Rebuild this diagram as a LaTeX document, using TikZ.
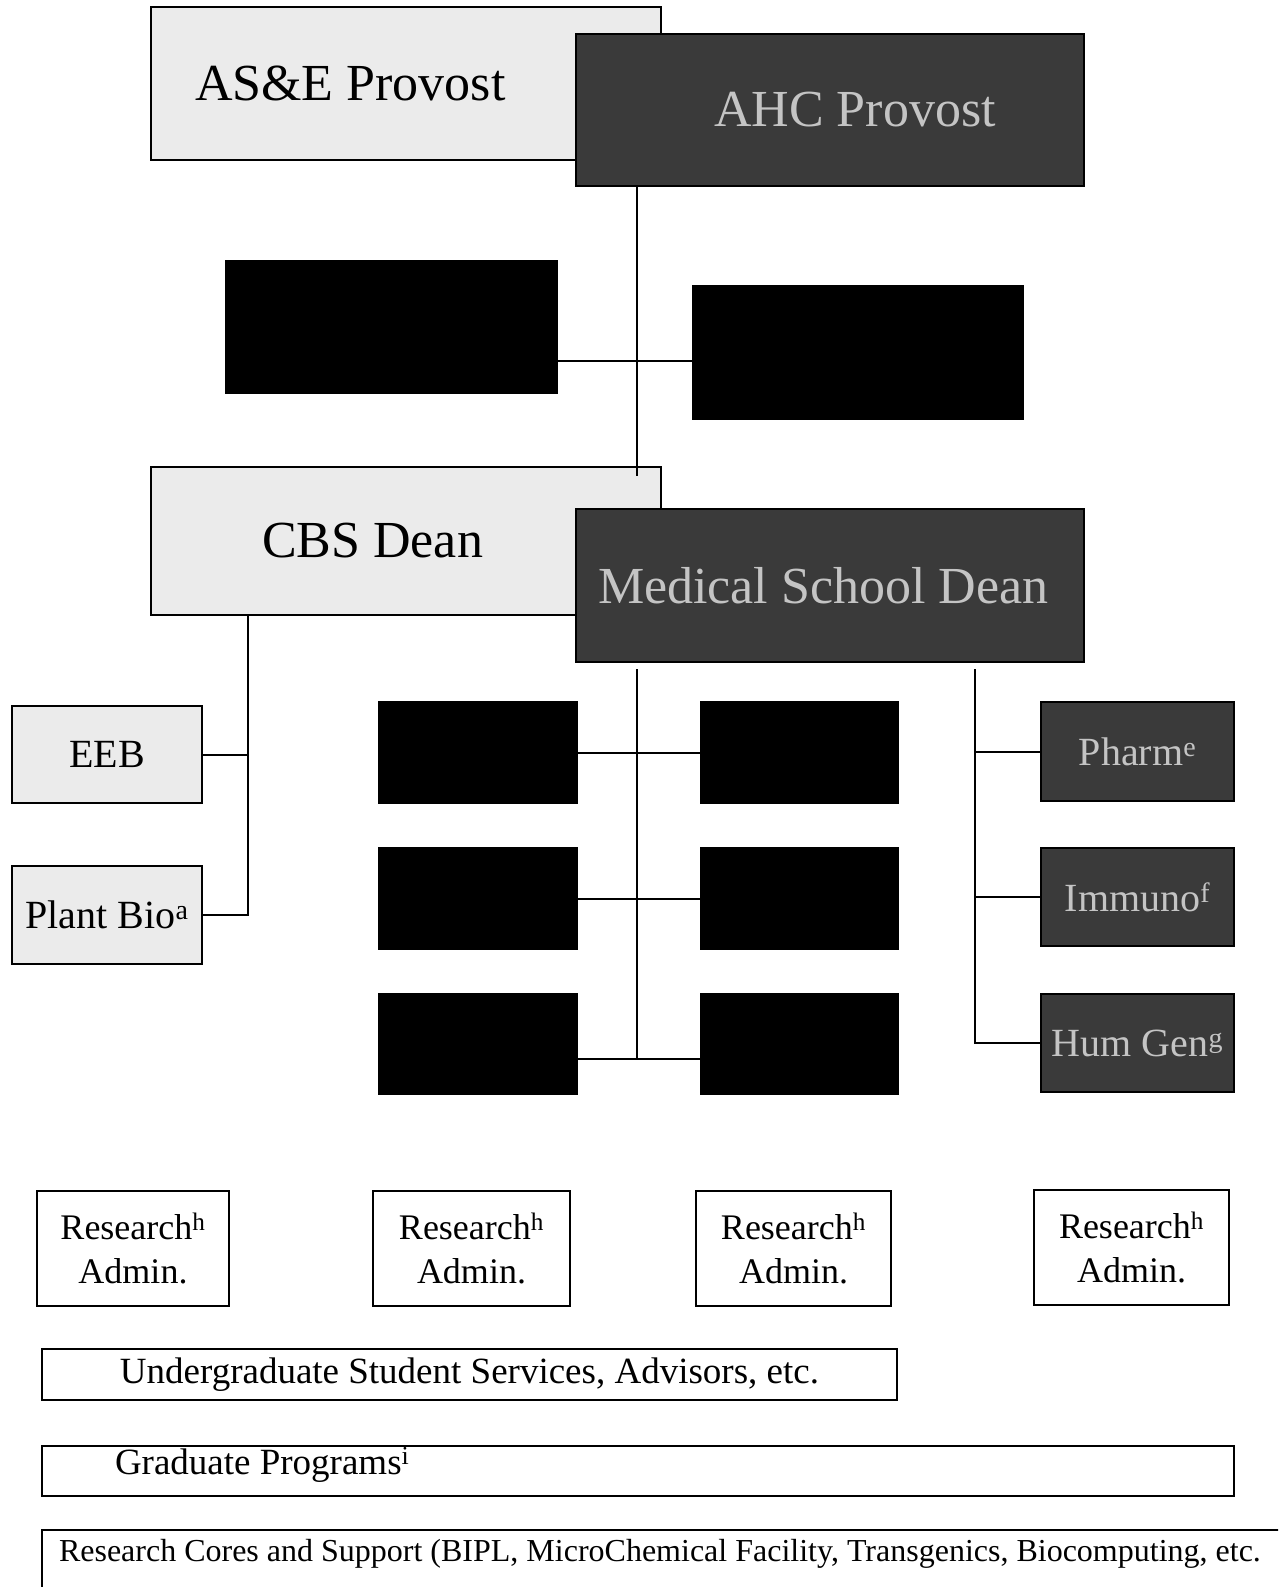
\documentclass[tikz,border=0pt]{standalone}
\usepackage{fontspec}
\setmainfont{Liberation Serif}
\usepackage{tikz}
\usetikzlibrary{positioning}
\definecolor{litegray}{HTML}{EBEBEB}
\definecolor{shade}{HTML}{3A3A3A}
\definecolor{fadetext}{HTML}{C4C4C4}

\begin{document}
\begin{tikzpicture}[
	x=1pt, y=-1pt,
	line width=2pt,
	every node/.style={
		inner sep=0pt,
		anchor=north west
	},
	box/.style 2 args={
		minimum width=#1pt,
		text width=#1pt,
		minimum height=#2pt
	},
	indent/.style={
		execute at begin node={\hspace*{#1pt}}
	},
	lite/.style={
		draw,
		fill=litegray,
		align=flush left,
		font=\fontsize{52}{60}\selectfont
	},
	dark/.style={
		draw,
		fill=shade,
		text=fadetext,
		align=flush left,
		font=\fontsize{52}{60}\selectfont
	},
	blk/.style={
		draw,
		fill=black
	},
	dept/.style={
		draw,
		fill=litegray,
		align=flush center,
		font=\fontsize{40}{48}\selectfont
	},
	ddept/.style={
		draw,
		fill=shade,
		text=fadetext,
		align=flush center,
		font=\fontsize{40}{48}\selectfont
	},
	admin/.style={
		draw,
		align=flush center,
		font=\fontsize{36}{44}\selectfont
	},
	bar/.style={
		draw,
		font=\fontsize{37}{44}\selectfont
	}
	]
	
	\useasboundingbox (0,0) rectangle (1278,1587);
	\clip (0,0) rectangle (1278,1587);
	
	% provosts
	\node[lite, box={510}{153}, indent=44] 
	(asep) at (150,6) {AS\&E Provost};
	\node[dark, box={508}{152}, indent=138] 
	(ahc) at (575,33) {AHC Provost};
	
	\node[blk, box={331}{132}] (hid1) at (225,260) {};
	\node[blk, box={330}{133}] (hid2) at (692,285) {};
	
	% deans
	\node[lite, box={510}{148}, indent=111] 
	(cbs) at (150,466) {CBS Dean};
	\node[dark, box={508}{153}, indent=22] 
	(med) at (575,508) {Medical School Dean};
	
	% CBS departments
	\node[dept, box={190}{97}] (eeb) at (11,705) {EEB};
	\node[dept, box={190}{98}] (plant) at (11,865) {Plant Bio\textsuperscript{a}};
	
	% medical school departments
	\node[blk, box={198}{101}] (m11) at (378,701) {};
	\node[blk, box={197}{101}] (m12) at (700,701) {};
	\node[blk, box={198}{101}] (m21) at (378,847) {};
	\node[blk, box={197}{101}] (m22) at (700,847) {};
	\node[blk, box={198}{100}] (m31) at (378,993) {};
	\node[blk, box={197}{100}] (m32) at (700,993) {};
	
	\node[ddept, box={193}{99}] (pharm) at (1040,701) {Pharm\textsuperscript{e}};
	\node[ddept, box={193}{98}] (immuno) at (1040,847) {Immuno\textsuperscript{f}};
	\node[ddept, box={193}{98}] (humgen) at (1040,993) {Hum Gen\textsuperscript{g}};
	
	% research admin
	\node[admin, box={192}{115}] (ra1) at (36,1190) {Research\textsuperscript{h}\\Admin.};
	\node[admin, box={197}{115}] (ra2) at (372,1190) {Research\textsuperscript{h}\\Admin.};
	\node[admin, box={195}{115}] (ra3) at (695,1190) {Research\textsuperscript{h}\\Admin.};
	\node[admin, box={195}{115}] (ra4) at (1033,1189) {Research\textsuperscript{h}\\Admin.};
	
	% shared services
	\node[bar, box={855}{51}, align=flush center] 
	(ugrad) at (41,1348) {Undergraduate Student Services, Advisors, etc.};
	\node[bar, box={1192}{50}, align=flush left, indent=73, text height=26pt, text depth=20pt] 
	(grad) at (41,1445) {Graduate Programs\textsuperscript{i}};
	\node[bar, box={1262}{80}, align=flush left, indent=17, text height=24pt, text depth=42pt, font=\fontsize{32}{38}\selectfont] 
	(cores) at (41,1529) {Research Cores and Support (BIPL, MicroChemical Facility, Transgenics, Biocomputing, etc.};
	
	\coordinate (bj) at (637,361);
	\coordinate (cbsx) at (248,0);
	\coordinate (medl) at (637,669);
	\coordinate (medr) at (975,669);
	\coordinate (mbot) at (637,1059);
	
	\draw (ahc.south -| bj) -- (cbs.north -| bj) -- ++(0,10);
	\draw (hid1.east |- bj) -- (hid2.west |- bj);
	
	\draw (cbs.south -| cbsx) |- (plant.east);
	\draw (eeb.east) -- (eeb.east -| cbsx);
	
	\draw (medl) -- (mbot);
	\draw (m11.east) -- (m12.west);
	\draw (m21.east) -- (m22.west);
	\draw (m31.east |- mbot) -- (m32.west |- mbot);
	
	\draw (medr) |- (humgen.west);
	\draw (pharm.west) -- (pharm.west -| medr);
	\draw (immuno.west) -- (immuno.west -| medr);
	
\end{tikzpicture}
\end{document}
